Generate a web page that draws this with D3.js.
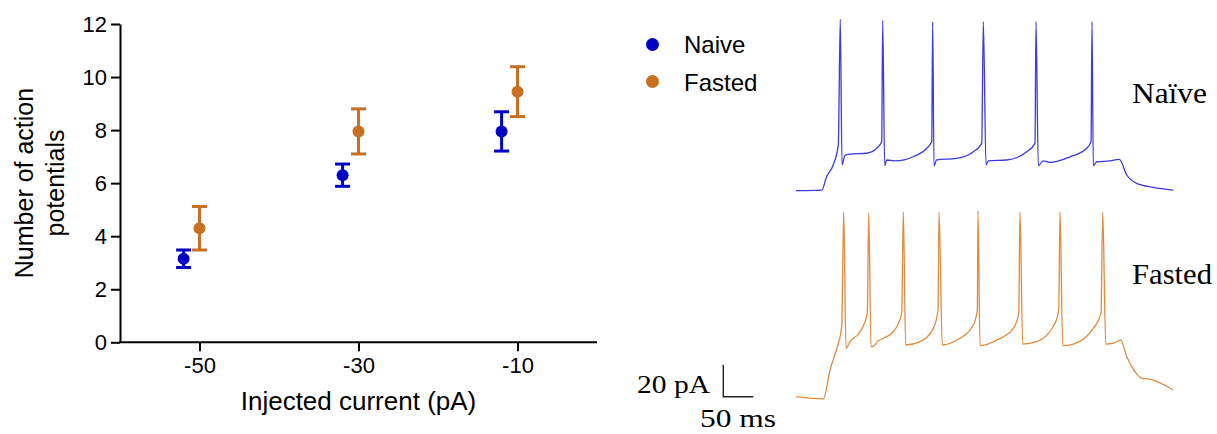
<!DOCTYPE html>
<html>
<head>
<meta charset="utf-8">
<script src="https://cdn.jsdelivr.net/npm/d3@7"></script>
<style>
  body { margin: 0; background: #fff; }
  svg { display: block; }
</style>
</head>
<body>
<div id="chart"></div>
<script>
// group means +/- error
const currents = [-50, -30, -10];
const naiveMean = [3.15, 6.3, 7.95];
const naiveErr = [0.33, 0.42, 0.74];
const fastedMean = [4.3, 7.95, 9.45];
const fastedErr = [0.82, 0.85, 0.94];
const yTicks = [0, 2, 4, 6, 8, 10, 12];
const xTicks = [-50, -30, -10];

// example traces, [time ms, membrane mV]
const naiveTrace = [
  [0, -70], [43, -69.6], [51, -61.3], [62, -53.9], [70.5, -41.4], [73.8, 37.1], [76.7, -53.9],
  [81.7, -47.7], [90, -47.1], [117.8, -46.6], [134.5, -43.5], [142.8, -39.4], [144.5, 36.3],
  [147.8, -54.4], [151.2, -50.8], [165, -51.4], [195.5, -48.8], [217.8, -43.5], [226.2, -39.4],
  [227.8, 35.6], [230, -54.4], [234.5, -50.8], [267.8, -49.8], [295.5, -45.6], [309.5, -40.4],
  [312.2, 35.6], [316.7, -53.9], [320.5, -51.3], [351.2, -50.8], [384.5, -45.6], [398.3, -40.4],
  [400, 35.6], [403.8, -54.4], [412.2, -51.3], [423.3, -52.3], [456.7, -48.8], [484.5, -43.5],
  [491.7, -39.4], [493.3, 35.6], [495.5, -54.4], [501.2, -51.9], [523.3, -51.4], [538.8, -50.4],
  [551.2, -60.2], [567.8, -65.4], [595.5, -67.9], [628.8, -69.6]
];
const fastedTrace = [
  [0, -70], [45.5, -71.4], [56.7, -53.3], [70.5, -36.6], [76.2, -26.3], [79.5, 45.6], [83.3, -39.8],
  [90, -35.6], [106.7, -29.4], [118.8, -17.9], [121.2, 45], [125, -38.8], [131.7, -37.7],
  [135.5, -35.6], [145.5, -33.5], [162.2, -29.4], [176.2, -17.9], [178.8, 45.6], [182.8, -37.7],
  [206.7, -35.6], [228.8, -27.3], [236.7, -15.8], [238.3, 45.6], [243.8, -37.7], [267.8, -34.6],
  [295.5, -25.2], [302.2, -15.8], [303.3, 46.1], [306.7, -38.1], [334.5, -34.6], [362.2, -27.3],
  [371.2, -17.9], [373.3, 45.6], [377.8, -37.1], [401.2, -35.6], [431.7, -24.1], [437.8, -15.8],
  [440, 45.6], [444.5, -38.1], [462.2, -37.1], [495.5, -27.3], [508.3, -17.9], [511.2, 45.3],
  [516.2, -37.1], [528.8, -36.6], [541.2, -34.6], [551.2, -45], [565, -54.4], [576.2, -58.5],
  [587.2, -58.9], [628.8, -65.8]
];

const blue = '#0000c4', orange = '#c8701f';
const blueTrace = '#3a3ade', orangeTrace = '#e08a3e';

const width = 1217, height = 434;
const svg = d3.select('#chart').append('svg')
  .attr('width', width).attr('height', height)
  .style('font-family', 'Arial, "Liberation Sans", sans-serif');

// ---- left panel: scatter with error bars
const x = d3.scaleLinear().domain([-60, 0]).range([120, 597]);
const y = d3.scaleLinear().domain([0, 12]).range([342.3, 24]);
const dodge = 2; // naive points sit 2 pA left

const yAxis = svg.append('g').attr('transform', `translate(${x(-60)},0)`)
  .call(d3.axisLeft(y).tickValues(yTicks).tickSize(9).tickSizeOuter(0).tickPadding(4)
    .tickFormat(d => String(d)));
const xAxis = svg.append('g').attr('transform', `translate(0,${y(0)})`)
  .call(d3.axisBottom(x).tickValues(xTicks).tickSize(9).tickSizeOuter(0).tickPadding(6)
    .tickFormat(d => String(d)));
[yAxis, xAxis].forEach(g => {
  g.select('.domain').attr('stroke', '#000').attr('stroke-width', 2);
  g.selectAll('.tick line').attr('stroke', '#000').attr('stroke-width', 2);
  g.selectAll('.tick text').attr('fill', '#000').style('font-size', '22px')
    .style('font-family', 'Arial, "Liberation Sans", sans-serif');
});
// extend axes to meet at the corner
xAxis.select('.domain').attr('d', `M${x(-60) - 1},0H${x(0)}`);

svg.append('text')
  .attr('x', x(-30)).attr('y', 410)
  .attr('text-anchor', 'middle').style('font-size', '26px')
  .text('Injected current (pA)');

const ylab = svg.append('text')
  .attr('transform', 'translate(33,183) rotate(-90)')
  .attr('text-anchor', 'middle').style('font-size', '25px');
ylab.append('tspan').attr('x', 0).attr('y', 0).text('Number of action');
ylab.append('tspan').attr('x', 0).attr('y', 31).text('potentials');

const groups = [
  { name: 'Naive', mean: naiveMean, err: naiveErr, color: blue, off: -dodge },
  { name: 'Fasted', mean: fastedMean, err: fastedErr, color: orange, off: 0 }
];

groups.forEach(gp => {
  const pts = currents.map((c, i) => ({ c: c + gp.off, m: gp.mean[i], e: gp.err[i] }));
  const g = svg.append('g').attr('stroke', gp.color).attr('stroke-width', 3).attr('fill', gp.color);
  g.selectAll('line.v').data(pts).join('line')
    .attr('x1', d => x(d.c)).attr('x2', d => x(d.c))
    .attr('y1', d => y(d.m - d.e)).attr('y2', d => y(d.m + d.e));
  g.selectAll('line.top').data(pts).join('line').attr('class', 'top')
    .attr('x1', d => x(d.c) - 7.5).attr('x2', d => x(d.c) + 7.5)
    .attr('y1', d => y(d.m + d.e)).attr('y2', d => y(d.m + d.e));
  g.selectAll('line.bot').data(pts).join('line').attr('class', 'bot')
    .attr('x1', d => x(d.c) - 7.5).attr('x2', d => x(d.c) + 7.5)
    .attr('y1', d => y(d.m - d.e)).attr('y2', d => y(d.m - d.e));
  g.selectAll('circle').data(pts).join('circle')
    .attr('cx', d => x(d.c)).attr('cy', d => y(d.m)).attr('r', 6).attr('stroke', 'none');
});

// legend
const legend = svg.append('g');
groups.forEach((gp, i) => {
  legend.append('circle').attr('cx', 652.5).attr('cy', 44.5 + i * 37).attr('r', 6.5).attr('fill', gp.color);
  legend.append('text').attr('x', 684).attr('y', 53.3 + i * 37.4)
    .style('font-size', '24px').attr('fill', '#000').text(gp.name);
});

// ---- right panel: traces
const tx = d3.scaleLinear().domain([0, 628.8]).range([796, 1173.3]);
const tyNaive = d3.scaleLinear().domain([-70, 40]).range([190.7, 14.7]);
const tyFasted = d3.scaleLinear().domain([-70, 40]).range([396.7, 220.7]);

const drawTrace = (data, ys, color) => {
  svg.append('path').datum(data)
    .attr('d', d3.line().curve(d3.curveMonotoneX).x(d => tx(d[0])).y(d => ys(d[1])))
    .attr('fill', 'none').attr('stroke', color).attr('stroke-width', 1.3)
    .attr('stroke-linejoin', 'round');
};
drawTrace(naiveTrace, tyNaive, blueTrace);
drawTrace(fastedTrace, tyFasted, orangeTrace);

const serif = '"Liberation Serif", "Times New Roman", serif';
svg.append('text').attr('x', 1132).attr('y', 103.3)
  .attr('textLength', 75).attr('lengthAdjust', 'spacingAndGlyphs')
  .style('font-family', serif).style('font-size', '30px').text('Naïve');
svg.append('text').attr('x', 1132).attr('y', 284.3)
  .attr('textLength', 80).attr('lengthAdjust', 'spacingAndGlyphs')
  .style('font-family', serif).style('font-size', '30px').text('Fasted');

// scale bar: 50 ms x 20 pA
const sbX = 723.3, sbY = 396.7;
const sbW = tx(50) - tx(0), sbH = tyFasted(-70) - tyFasted(-50);
svg.append('path')
  .attr('d', `M${sbX},${sbY - sbH}V${sbY}H${sbX + sbW}`)
  .attr('fill', 'none').attr('stroke', '#222').attr('stroke-width', 1.4);
svg.append('text').attr('x', 637).attr('y', 392.7)
  .attr('textLength', 73).attr('lengthAdjust', 'spacingAndGlyphs')
  .style('font-family', serif).style('font-size', '26px').text('20 pA');
svg.append('text').attr('x', 700).attr('y', 426.5)
  .attr('textLength', 76).attr('lengthAdjust', 'spacingAndGlyphs')
  .style('font-family', serif).style('font-size', '25px').text('50 ms');
</script>
</body>
</html>
